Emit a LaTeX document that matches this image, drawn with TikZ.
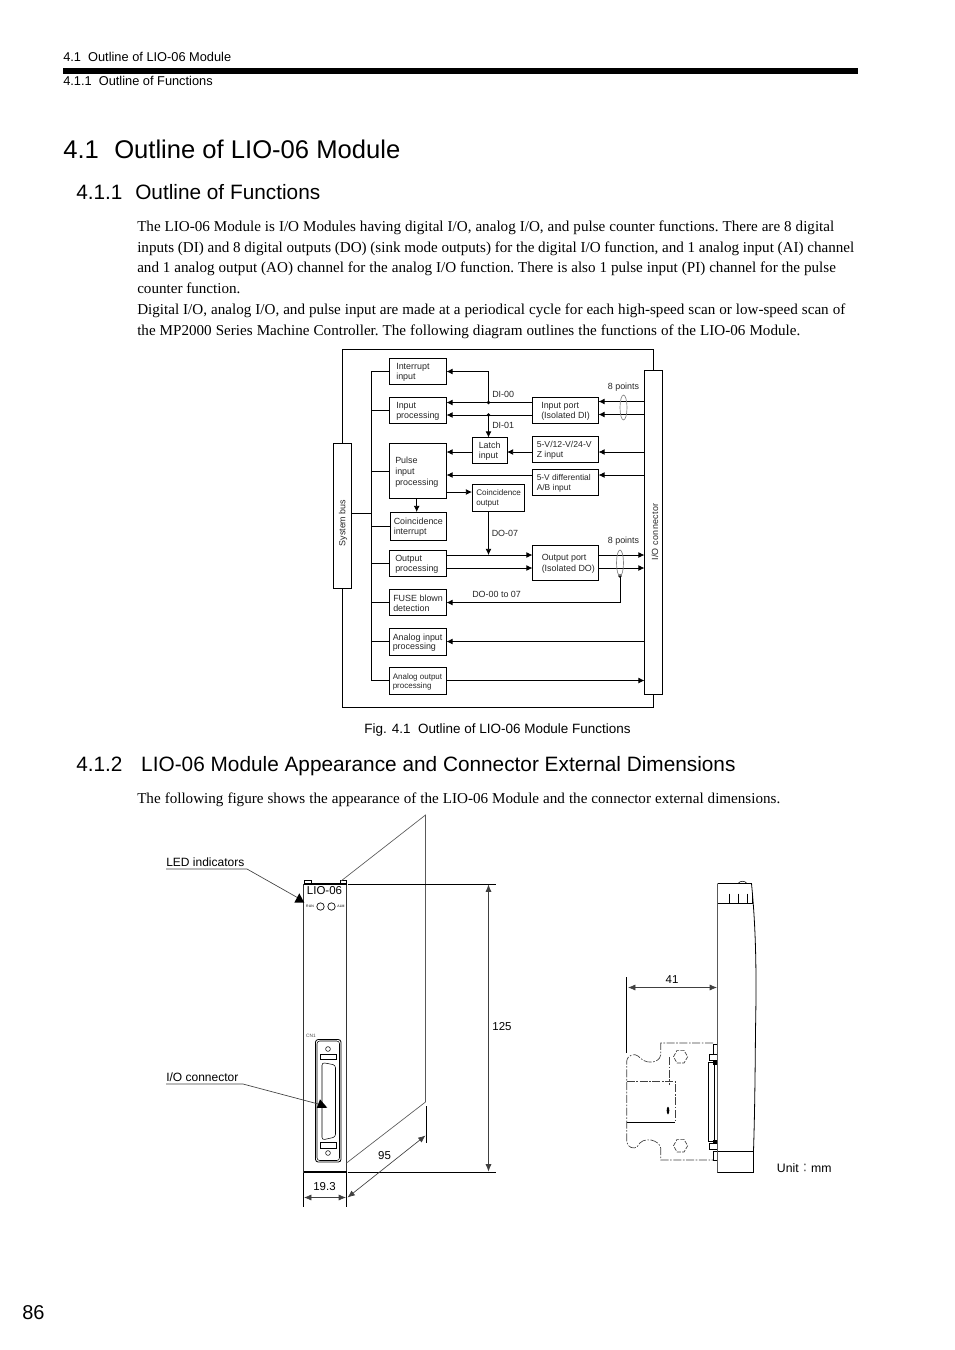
\documentclass[tikz,border=0pt]{standalone}
\usepackage{fontspec}
\setmainfont{Liberation Serif}
\newfontfamily\arial{Liberation Sans}
\newfontfamily\cjk{Noto Sans CJK JP}
\usepackage{xcolor}
\usetikzlibrary{arrows.meta,calc}
\colorlet{rulegray}{black!75}
\colorlet{modgray}{black!65}
\tikzset{
  blk/.style={draw,line width=0.7pt,inner sep=0pt,outer sep=0pt},
  blktxt/.style={inner sep=0pt,align=left,font=\arial\fontsize{6.7}{7.3}\selectfont,text=black!85},
  lbl/.style={inner sep=0pt,font=\arial\fontsize{6.7}{8}\selectfont,text=black!85},
  sig/.style={line width=0.6pt,-{Latex[length=4.6pt,width=4.4pt]}},
  wire/.style={line width=0.6pt},
  dimline/.style={line width=0.5pt,rulegray,{Latex[length=5.5pt,width=4.5pt]}-{Latex[length=5.5pt,width=4.5pt]}},
  extline/.style={line width=0.6pt},
  lead/.style={line width=0.5pt,rulegray},
  dimtxt/.style={inner sep=0pt,font=\arial\fontsize{8.6}{10}\selectfont},
  dashdot/.style={line width=0.5pt,rulegray,dash pattern=on 6pt off 1.2pt on 1.2pt off 1.2pt},
  bodyline/.style={anchor=base west,inner sep=0pt,font=\fontsize{11.33}{13}\selectfont\frenchspacing},
}
% #1 options of the text, #2 name, #3 text offset, #4..#7 left top right bottom in pixels, #8 text
\newcommand{\blockbox}[8][]{%
  \node[blk,anchor=north west,minimum width={(#6-#4)*0.75pt},minimum height={(#7-#5)*0.75pt}] (#2) at (#4,#5) {};
  \node[blktxt,anchor=west,#1] (#2txt) at ($(#2.west)+(#3,1)$) {#8};}
\begin{document}
\begin{tikzpicture}[x=0.75pt,y=-0.75pt,>=Latex]
\useasboundingbox (0,0) rectangle (954,1350);
% ---- page head ----
\node[anchor=base west,inner sep=0pt,font=\arial\fontsize{9.6}{11}\selectfont] (headA) at (63,61.5) {4.1\ \ Outline of LIO-06 Module};
\node[anchor=base west,inner sep=0pt,font=\arial\fontsize{9.6}{11}\selectfont] (headB) at (63,85.5) {4.1.1\ \ Outline of Functions};
\fill (63,68) rectangle (858,73.5);
\node[anchor=base west,inner sep=0pt,font=\arial\fontsize{19.2}{22}\selectfont] (titleA) at (63,158) {\makebox[38.25pt][l]{4.1}Outline of LIO-06 Module};
\node[anchor=base west,inner sep=0pt,font=\arial\fontsize{15.6}{18}\selectfont] (titleB) at (76,199) {\makebox[44.25pt][l]{4.1.1}Outline of Functions};
\node[anchor=base west,inner sep=0pt,font=\arial\fontsize{15.6}{18}\selectfont] (titleC) at (76,771) {\makebox[48.75pt][l]{4.1.2}LIO-06 Module Appearance and Connector External Dimensions};
\node[bodyline] (bodyA) at (137,231) {\makebox[522.75pt][s]{The LIO-06 Module is I/O Modules having digital I/O, analog I/O, and pulse counter functions. There are 8 digital}};
\node[bodyline] (bodyB) at (137,252) {\makebox[537.75pt][s]{inputs (DI) and 8 digital outputs (DO) (sink mode outputs) for the digital I/O function, and 1 analog input (AI) channel}};
\node[bodyline] (bodyC) at (137,272) {\makebox[524pt][s]{and 1 analog output (AO) channel for the analog I/O function. There is also 1 pulse input (PI) channel for the pulse}};
\node[bodyline] (bodyD) at (137,293) {counter function.};
\node[bodyline] (bodyE) at (137,314) {\makebox[531pt][s]{Digital I/O, analog I/O, and pulse input are made at a periodical cycle for each high-speed scan or low-speed scan of}};
\node[bodyline] (bodyF) at (137,335) {\makebox[497.25pt][s]{the MP2000 Series Machine Controller. The following diagram outlines the functions of the LIO-06 Module.}};
\node[bodyline] (bodyG) at (137,803) {\makebox[482.25pt][s]{The following figure shows the appearance of the LIO-06 Module and the connector external dimensions.}};
\node[anchor=base,inner sep=0pt,font=\arial\fontsize{10.1}{11}\selectfont] (figcap) at (497.5,733) {Fig. 4.1\ \ Outline of LIO-06 Module Functions};
\node[anchor=base west,inner sep=0pt,font=\arial\fontsize{15}{18}\selectfont] (pageno) at (22,1319) {86};
% ---- block diagram ----
\draw[line width=0.7pt] (342.5,443)--(342.5,349.5)--(653.5,349.5)--(653.5,370);
\draw[line width=0.7pt] (342.5,588)--(342.5,707.5)--(653.5,707.5)--(653.5,694);
\node[blk,fill=white,anchor=north west,minimum width=13.5pt,minimum height=108.75pt] (sysbus) at (333.5,443) {};
\node[blk,fill=white,anchor=north west,minimum width=13.5pt,minimum height=243pt] (ioconn) at (644.5,370) {};
\node[lbl,rotate=90] (sysbustxt) at (343,523) {System bus};
\node[lbl,rotate=90,font=\arial\fontsize{6.7}{8}\selectfont\addfontfeature{LetterSpace=4}] (iotxt) at (655,532) {I/O connector};
\blockbox{intin}{6.5}{389.5}{358.5}{446.5}{384.5}{Interrupt\\input}
\blockbox{inproc}{6.5}{389.5}{397.5}{446.5}{423.5}{Input\\processing}
\blockbox[font=\arial\fontsize{6.7}{8.25}\selectfont]{pulse}{5.5}{389.5}{443.5}{446.5}{498.5}{Pulse\\input\\processing}
\blockbox{coinint}{3.5}{390}{512}{446.5}{540}{Coincidence\\interrupt}
\blockbox{outproc}{5.5}{389.5}{550}{446.5}{576.5}{Output\\processing}
\blockbox{fuse}{3.5}{389.5}{589}{446.5}{615.5}{FUSE blown\\detection}
\blockbox{anain}{3}{389.5}{628.5}{446.5}{655}{Analog input\\processing}
\blockbox[font=\arial\fontsize{6}{7}\selectfont]{anaout}{3}{389.5}{667.5}{446.5}{694}{Analog output\\processing}
\blockbox{latch}{6.5}{472}{437.5}{507}{463.5}{Latch\\input}
\blockbox{inport}{8.5}{532.5}{397.5}{598.5}{423.5}{Input port\\(Isolated DI)}
\blockbox[font=\arial\fontsize{6.5}{7.3}\selectfont]{zin}{4}{532.5}{436}{598.5}{462.5}{5-V/12-V/24-V\\Z input}
\blockbox[font=\arial\fontsize{6.3}{7.3}\selectfont]{abin}{4}{532.5}{469}{598.5}{495.5}{5-V differential\\A/B input}
\blockbox[font=\arial\fontsize{6.1}{7.5}\selectfont]{coinout}{4}{472}{484}{524.5}{511}{Coincidence\\output}
\blockbox[font=\arial\fontsize{6.7}{8.4}\selectfont]{outport}{9}{532.5}{545}{598.5}{580.5}{Output port\\(Isolated DO)}
% levels of the signal lines
\coordinate (lvintr) at (0,371.5);
\coordinate (lvdiA) at (0,402.5);
\coordinate (lvdiB) at (0,415);
\coordinate (lvz) at (0,452);
\coordinate (lvab) at (0,475);
\coordinate (lvcoin) at (0,492);
\coordinate (lvdoA) at (0,555);
\coordinate (lvdoB) at (0,568);
\coordinate (lvfuse) at (0,602.5);
\coordinate (lvana) at (0,641.5);
\coordinate (lvanb) at (0,680.5);
\coordinate (busT) at (371.5,371.5);
\coordinate (busB) at (371.5,680.5);
\coordinate (busS) at (371.5,513);
\coordinate (diA) at (488.5,402.5);
\coordinate (diB) at (488.5,415);
\coordinate (intdrop) at (416.7,0);
\coordinate (fusedot) at (620,576);
\coordinate (portA) at (0,401.5);
\coordinate (portB) at (0,414.5);
% bus and its stubs
\draw[wire] (intin.west |- busT) -- (busT) -- (busB) -- (anaout.west |- busB);
\foreach \blkname in {inproc,pulse,coinint,outproc,fuse,anain}{
  \draw[wire] (busT |- \blkname.west) -- (\blkname.west);
}
\draw[wire] (sysbus.east |- busS) -- (busS);
% inputs
\draw[sig] (diA) -- (diA |- lvintr) -- (intin.east |- lvintr);
\draw[sig] (inport.west |- lvdiA) -- (inproc.east |- lvdiA);
\draw[sig] (inport.west |- lvdiB) -- (inproc.east |- lvdiB);
\fill (diA) circle (1.8);
\fill (diB) circle (1.8);
\draw[sig] (diB) -- (diB |- latch.north);
\draw[gray,line width=1.2pt] (ioconn.west |- portA) -- (inport.east |- portA);
\draw[sig] (ioconn.west |- portA) -- (inport.east |- portA);
\draw[sig] (ioconn.west |- portB) -- (inport.east |- portB);
\draw[sig] (ioconn.west |- lvz) -- (zin.east |- lvz);
\draw[sig] (zin.west |- lvz) -- (latch.east |- lvz);
\draw[sig] (latch.west |- lvz) -- (pulse.east |- lvz);
\draw[sig] (ioconn.west |- lvab) -- (abin.east |- lvab);
\draw[sig] (abin.west |- lvab) -- (pulse.east |- lvab);
\draw[sig] (pulse.east |- lvcoin) -- (coinout.west |- lvcoin);
\draw[sig] (intdrop |- pulse.south) -- (intdrop |- coinint.north);
% outputs
\draw[sig] (diA |- coinout.south) -- (diA |- lvdoA);
\foreach \lvname in {lvdoA,lvdoB}{
  \draw[sig] (outproc.east |- \lvname) -- (outport.west |- \lvname);
  \draw[sig] (outport.east |- \lvname) -- (ioconn.west |- \lvname);
}
\draw[sig] (fusedot) -- (fusedot |- lvfuse) -- (fuse.east |- lvfuse);
\fill (fusedot) circle (1.8);
\draw[sig] (ioconn.west |- lvana) -- (anain.east |- lvana);
\draw[sig] (anaout.east |- lvanb) -- (ioconn.west |- lvanb);
\draw[gray,line width=0.5pt] (623.5,407.5) ellipse (3.5 and 12.5);
\draw[gray,line width=0.5pt] (620,563) ellipse (3.5 and 13);
\node[lbl] (ptsA) at (623.5,387.5) {8 points};
\node[lbl] (ptsB) at (623.5,541.5) {8 points};
\node[lbl,anchor=west] (tdiA) at (492,394) {DI-00};
\node[lbl,anchor=west] (tdiB) at (492,425) {DI-01};
\node[lbl,anchor=west] (tdo) at (491.5,533) {DO-07};
\node[lbl,anchor=west] (tdos) at (472,594.5) {DO-00 to 07};
% ---- module, front view ----
\draw[line width=0.7pt,black!80] (303.5,884)--(303.5,1172)--(346.5,1172)--(346.5,884);
\draw[line width=1.4pt] (303.5,884)--(346.5,884);
\draw[line width=1.4pt] (303.5,1172)--(346.5,1172);
\draw[line width=0.5pt] (304.5,884)--(304.5,880.5)--(311.5,880.5)--(311.5,884);
\draw[line width=0.5pt] (340,884)--(340,880.5)--(346.5,880.5)--(346.5,884);
\draw[line width=0.5pt,modgray] (341,881)--(425.5,815)--(425.5,1102)--(346.5,1163);
\node[inner sep=0pt,font=\arial\fontsize{8.6}{10}\selectfont] (modname) at (324.5,891) {LIO-06};
\node[inner sep=0pt,font=\arial\fontsize{2.6}{3}\selectfont] (runtxt) at (310,906.5) {RUN};
\node[inner sep=0pt,font=\arial\fontsize{2.6}{3}\selectfont] (almtxt) at (341,906.5) {ALM};
\draw[line width=0.5pt] (320.5,906.5) circle (3.7);
\draw[line width=0.5pt] (331.5,906.5) circle (3.7);
\node[inner sep=0pt,font=\arial\fontsize{3.6}{4}\selectfont,text=black!70] (cntxt) at (311,1036) {CN1};
\draw[line width=0.6pt,rounded corners=2] (315.5,1039.5) rectangle (341,1162);
\draw[line width=0.4pt,rounded corners=2] (317,1041) rectangle (339.5,1160.5);
\draw[line width=0.4pt] (328,1049) circle (2.4);
\draw[line width=0.4pt] (328,1153) circle (2.4);
\draw[line width=0.5pt] (320.5,1054.5) rectangle (336.5,1059.5);
\draw[line width=0.5pt] (320.5,1142) rectangle (336.5,1148);
\draw[line width=0.4pt,rounded corners=2] (322,1062.5)--(335.5,1065)--(335.5,1137)--(322,1140)--cycle;
% ---- leaders ----
\coordinate (ledend) at (247,869);
\coordinate (ioend) at (243,1084);
\node[anchor=base west,inner sep=0pt,font=\arial\fontsize{9}{10}\selectfont] (ledtxt) at (166,866) {LED indicators};
\node[anchor=base west,inner sep=0pt,font=\arial\fontsize{9}{10}\selectfont] (iotxtB) at (166,1081) {I/O connector};
\draw[lead] (166,869) -- (ledend) -- (300,899);
\fill (299.3,893.3)--(304.3,902.7)--(294.3,902.7)--cycle;
\draw[lead] (166,1084) -- (ioend) -- (322,1105);
\fill (320,1099.3)--(327.3,1107.7)--(316.7,1108)--cycle;
% ---- dimensions, front view ----
\draw[extline] (347.5,884)--(496,884);
\draw[extline] (347.5,1172)--(496,1172);
\draw[dimline] (488.5,884.5)--(488.5,1171.5);
\node[dimtxt] (d125) at (502,1027) {125};
\draw[extline] (303.5,1172.5)--(303.5,1207);
\draw[extline] (346.5,1172.5)--(346.5,1207);
\draw[dimline] (304,1197.5)--(346,1197.5);
\node[dimtxt] (d193) at (324.5,1187) {19.3};
\draw[extline] (426.5,1106)--(426.5,1143);
\draw[dimline] (347.5,1197.5)--(425.5,1135.5);
\node[dimtxt] (d95) at (384.5,1155.5) {95};
% ---- module, side view ----
\draw[line width=0.7pt,modgray] (717.5,883.5)--(717.5,1172.5);
\draw[line width=0.6pt] (717.5,883.5)--(751.5,883.5) .. controls (755,920) and (757,960) .. (755.5,1030) .. controls (755,1090) and (754.5,1120) .. (753.5,1151)--(753.5,1172.5)--(717.5,1172.5);
\draw[line width=0.4pt] (738,883.5) .. controls (740,880.5) and (745,880.5) .. (747,883.5);
\draw[line width=0.5pt] (717.5,903.5)--(752.5,903.5);
\foreach \tickx in {729,738,747,752}{
  \draw[line width=0.5pt] (\tickx,893.5)--(\tickx,903.5);
}
\draw[line width=0.5pt] (717.5,1151)--(753.5,1151);
\draw[extline] (626.5,977)--(626.5,1053);
\draw[dimline] (628,987.5)--(717,987.5);
\node[dimtxt] (d41) at (672,980) {41};
% connector, dash-dotted
\draw[dashdot] (713,1043)--(660.7,1043)--(660.7,1055) .. controls (660,1060) and (655,1062) .. (651,1062) .. controls (646,1062.5) and (642,1060) .. (638,1056) .. controls (635,1053.5) and (628,1054) .. (626.7,1061)--(626.7,1142) .. controls (628,1148) and (634,1149) .. (637,1147) .. controls (640,1141) and (645,1139) .. (651,1140) .. controls (656,1141) and (660,1144) .. (660.7,1148)--(660.7,1160)--(713,1160);
\draw[dashdot] (626.7,1081.5)--(675,1081.5)--(675,1122);
\draw[line width=0.6pt] (626.7,1122)--(675,1122);
\draw[dashdot] (669.3,1057)--(669.3,1085);
\fill (668,1110.5) ellipse (1.3 and 3.8);
\foreach \hexy in {1056.7,1145.7}{
  \draw[dashdot,dash pattern=on 3pt off 1pt] (673.5,\hexy)--(677,{\hexy-6.3})--(684,{\hexy-6.3})--(687.7,\hexy)--(684,{\hexy+6.3})--(677,{\hexy+6.3})--cycle;
}
% connector body at the module
\draw[line width=0.5pt] (708.3,1062)--(708.3,1141);
\draw[line width=0.5pt] (714,1062)--(714,1141);
\draw[line width=0.4pt] (708.3,1062)--(717,1062);
\draw[line width=0.4pt] (708.3,1141)--(717,1141);
\fill (713,1061) rectangle (717,1065);
\fill (713,1139.5) rectangle (717,1143);
\foreach \stepy in {1054,1143}{
  \draw[line width=0.5pt] (717,\stepy)--(709,\stepy)--(709,{\stepy+6})--(717,{\stepy+6});
}
\draw[line width=0.5pt] (717,1044)--(713.5,1044)--(713.5,1054);
\draw[line width=0.5pt] (717,1160)--(713.5,1160)--(713.5,1151)--(717,1151);
\node[anchor=base west,inner sep=0pt,font=\arial\fontsize{9.2}{10}\selectfont] (unittxt) at (776.7,1172.5) {Unit{\cjk\color{black!60}：}mm};
\end{tikzpicture}
\end{document}
